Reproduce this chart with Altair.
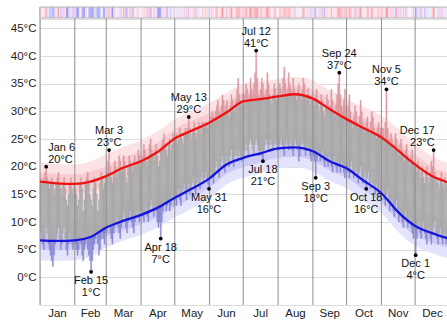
import altair as alt
import numpy as np
import pandas as pd

# ---- calendar ----
MONTHS = ["Jan", "Feb", "Mar", "Apr", "May", "Jun", "Jul", "Aug", "Sep", "Oct", "Nov", "Dec"]
MONTH_DAYS = [31, 28, 31, 30, 31, 30, 31, 31, 30, 31, 30, 31]

# ---- daily observed highs (°C), one list per month ----
high_jan = [18, 17, 17, 18, 19, 20, 18, 17, 16, 17, 18, 17, 15, 16, 17, 18, 19, 17, 16, 15, 17, 18, 16, 14, 13, 15, 17, 18, 16, 15, 17]
high_feb = [16, 15, 13, 14, 17, 18, 16, 12, 14, 17, 18, 19, 17, 15, 14, 13, 16, 18, 17, 15, 12, 14, 17, 19, 18, 16, 17, 18]
high_mar = [19, 21, 23, 20, 18, 17, 19, 21, 20, 18, 19, 22, 21, 19, 20, 22, 21, 18, 17, 20, 22, 21, 20, 19, 21, 22, 20, 21, 23, 22, 20]
high_apr = [21, 22, 24, 23, 21, 20, 22, 24, 25, 23, 22, 21, 23, 24, 22, 20, 21, 23, 24, 25, 26, 24, 23, 22, 24, 25, 23, 24, 26, 25]
high_may = [25, 26, 24, 25, 27, 26, 25, 24, 26, 27, 26, 27, 29, 27, 25, 26, 27, 28, 26, 25, 27, 28, 27, 26, 28, 28, 27, 28, 28, 27, 28]
high_jun = [28, 29, 30, 29, 28, 30, 31, 32, 30, 29, 31, 33, 32, 30, 31, 32, 30, 29, 31, 33, 32, 31, 30, 32, 34, 36, 33, 32, 31, 33]
high_jul = [32, 33, 35, 34, 32, 33, 36, 34, 33, 35, 37, 41, 36, 33, 32, 34, 36, 35, 33, 32, 34, 37, 35, 33, 32, 31, 33, 35, 34, 32, 33]
high_aug = [33, 35, 34, 33, 36, 38, 35, 33, 34, 37, 35, 34, 33, 36, 34, 33, 32, 34, 35, 33, 32, 34, 36, 35, 33, 32, 34, 33, 31, 32, 33]
high_sep = [32, 31, 33, 34, 32, 30, 31, 33, 32, 30, 29, 31, 33, 32, 30, 31, 34, 32, 30, 29, 31, 33, 35, 37, 33, 31, 30, 32, 34, 31]
high_oct = [29, 31, 33, 30, 28, 27, 29, 31, 30, 28, 27, 29, 32, 30, 28, 27, 26, 28, 29, 27, 26, 28, 30, 29, 27, 26, 25, 27, 28, 26, 27]
high_nov = [26, 27, 25, 28, 34, 27, 25, 24, 26, 25, 23, 24, 26, 25, 23, 22, 24, 25, 23, 22, 21, 23, 24, 22, 21, 20, 22, 23, 21, 20]
high_dec = [20, 19, 21, 20, 18, 19, 20, 18, 17, 19, 20, 18, 17, 19, 21, 20, 23, 19, 17, 18, 17, 16, 18, 19, 17, 16, 18, 17, 16, 17, 18]

# ---- daily observed lows (°C), one list per month ----
low_jan = [8, 7, 6, 5, 7, 9, 8, 6, 5, 4, 3, 2, 4, 6, 7, 8, 9, 7, 5, 6, 8, 9, 7, 5, 4, 6, 8, 7, 6, 5, 7]
low_feb = [6, 5, 4, 5, 7, 6, 4, 3, 5, 6, 7, 5, 4, 3, 1, 3, 5, 6, 7, 8, 6, 4, 5, 7, 8, 7, 6, 8]
low_mar = [8, 9, 10, 8, 7, 6, 8, 9, 10, 11, 9, 8, 7, 9, 10, 12, 11, 9, 8, 10, 11, 12, 10, 9, 8, 10, 11, 12, 11, 10, 12]
low_apr = [12, 11, 10, 12, 13, 11, 10, 12, 13, 14, 12, 11, 13, 12, 10, 9, 10, 7, 10, 12, 13, 14, 12, 13, 14, 12, 13, 15, 14, 13]
low_may = [14, 13, 15, 16, 14, 13, 15, 16, 17, 15, 14, 16, 17, 15, 16, 17, 18, 16, 15, 17, 18, 17, 16, 18, 19, 17, 18, 19, 18, 17, 16]
low_jun = [18, 19, 18, 17, 19, 20, 21, 19, 18, 20, 21, 22, 20, 19, 21, 22, 21, 20, 22, 23, 21, 20, 22, 23, 22, 21, 23, 22, 21, 22]
low_jul = [22, 23, 24, 23, 22, 24, 25, 24, 23, 22, 24, 25, 24, 23, 22, 23, 22, 21, 23, 24, 25, 24, 23, 24, 25, 24, 23, 24, 25, 24, 23]
low_aug = [23, 24, 25, 24, 23, 22, 24, 25, 24, 23, 24, 25, 23, 22, 24, 25, 24, 23, 21, 22, 24, 25, 24, 23, 22, 23, 24, 23, 22, 21, 23]
low_sep = [22, 21, 18, 21, 23, 22, 21, 22, 23, 21, 20, 22, 21, 20, 22, 21, 20, 19, 21, 22, 20, 19, 21, 20, 19, 21, 20, 19, 18, 20]
low_oct = [20, 19, 18, 20, 21, 19, 18, 19, 20, 18, 17, 19, 20, 18, 17, 18, 19, 16, 18, 19, 17, 16, 18, 17, 16, 15, 17, 16, 15, 16, 15]
low_nov = [15, 16, 14, 13, 15, 16, 14, 12, 13, 14, 12, 11, 13, 14, 12, 10, 11, 12, 10, 9, 11, 12, 10, 9, 10, 11, 9, 8, 7, 9]
low_dec = [4, 7, 9, 10, 8, 7, 9, 10, 8, 7, 6, 8, 9, 7, 6, 8, 9, 10, 8, 7, 6, 8, 9, 7, 6, 8, 7, 6, 8, 7, 6]

# ---- climatology at half-month knots (day of year) ----
knot_day = [0, 15, 31, 45, 59, 74, 90, 105, 120, 135, 151, 166, 181, 196, 212, 227, 243, 258, 273, 288, 304, 319, 334, 349, 364]
avg_high = [17.3, 17.0, 16.9, 17.3, 18.3, 19.8, 21.0, 22.7, 25.1, 26.5, 28.0, 29.8, 31.8, 32.2, 32.7, 33.1, 32.3, 30.4, 28.6, 27.0, 25.3, 22.9, 20.4, 18.3, 17.1]
high_p10 = [13.7, 13.4, 13.3, 13.6, 14.6, 16.1, 17.4, 19.0, 21.4, 23.0, 24.4, 26.2, 28.3, 28.7, 29.2, 29.6, 28.6, 26.8, 25.0, 23.4, 21.7, 19.3, 16.8, 14.7, 13.5]
high_p25 = [15.6, 15.3, 15.2, 15.5, 16.5, 18.0, 19.2, 20.8, 23.2, 24.9, 26.3, 28.1, 30.2, 30.6, 31.1, 31.5, 30.6, 28.7, 26.8, 25.2, 23.5, 21.1, 18.6, 16.6, 15.4]
high_p75 = [19.0, 18.7, 18.6, 19.1, 20.1, 21.6, 22.8, 24.4, 26.8, 28.3, 29.7, 31.5, 33.4, 33.8, 34.3, 34.7, 34.0, 32.1, 30.4, 28.8, 27.1, 24.7, 22.2, 20.0, 18.8]
high_p90 = [20.8, 20.5, 20.4, 21.0, 22.2, 23.6, 24.8, 26.4, 28.6, 30.0, 31.5, 33.3, 35.0, 35.4, 35.8, 36.2, 35.6, 33.8, 32.2, 30.8, 29.2, 26.8, 24.2, 21.9, 20.6]
avg_low = [6.7, 6.6, 6.7, 7.3, 9.0, 10.2, 11.3, 12.6, 14.4, 16.0, 17.9, 20.4, 21.6, 22.4, 23.3, 23.5, 22.8, 21.0, 19.7, 17.5, 15.2, 11.8, 9.3, 8.0, 7.0]
low_p10 = [3.1, 3.0, 3.1, 3.7, 5.4, 6.6, 7.7, 9.0, 10.8, 12.4, 14.3, 16.8, 18.0, 18.8, 19.7, 19.9, 19.2, 17.4, 16.1, 13.9, 11.6, 8.2, 5.7, 4.4, 3.4]
low_p25 = [5.0, 4.9, 5.0, 5.6, 7.3, 8.5, 9.6, 10.9, 12.7, 14.3, 16.2, 18.7, 19.9, 20.7, 21.6, 21.8, 21.1, 19.3, 18.0, 15.8, 13.5, 10.1, 7.6, 6.3, 5.3]
low_p75 = [8.4, 8.3, 8.4, 9.0, 10.7, 11.9, 13.0, 14.3, 16.1, 17.7, 19.6, 22.1, 23.3, 24.1, 25.0, 25.2, 24.5, 22.7, 21.4, 19.2, 16.9, 13.5, 11.0, 9.7, 8.7]
low_p90 = [10.2, 10.1, 10.2, 10.8, 12.5, 13.7, 14.8, 16.1, 17.9, 19.5, 21.4, 23.9, 25.1, 25.9, 26.8, 27.0, 26.3, 24.5, 23.2, 21.0, 18.7, 15.3, 12.8, 11.5, 10.5]

# ---- annotated extremes ----
ann_date = ["Jan 6", "Feb 15", "Mar 3", "Apr 18", "May 13", "May 31", "Jul 12",
            "Jul 18", "Sep 3", "Sep 24", "Oct 18", "Nov 5", "Dec 1", "Dec 17"]
ann_kind = ["high", "low", "high", "low", "high", "low", "high",
            "low", "low", "high", "low", "high", "low", "high"]

# ---- assemble tables ----
month_start = np.concatenate([[0], np.cumsum(MONTH_DAYS)[:-1]])
daily_high = np.array(sum([high_jan, high_feb, high_mar, high_apr, high_may, high_jun,
                           high_jul, high_aug, high_sep, high_oct, high_nov, high_dec], []), float)
daily_low = np.array(sum([low_jan, low_feb, low_mar, low_apr, low_may, low_jun,
                          low_jul, low_aug, low_sep, low_oct, low_nov, low_dec], []), float)
days = np.arange(len(daily_high))

# average curve at each day, used to split each daily bar into colored parts
ah_day = np.interp(days + 0.5, knot_day, avg_high)
al_day = np.interp(days + 0.5, knot_day, avg_low)

seg_rows = []
for d, h, l, ah, al in zip(days, daily_high, daily_low, ah_day, al_day):
    if l < al:
        seg_rows.append((d, d + 1, l, min(h, al), "below"))
    lo, hi = max(l, al), min(h, ah)
    if hi > lo:
        seg_rows.append((d, d + 1, lo, hi, "mid"))
    if h > ah:
        seg_rows.append((d, d + 1, max(l, ah), h, "above"))
segments = pd.DataFrame(seg_rows, columns=["d0", "d1", "t0", "t1", "part"])

stripe = pd.DataFrame({
    "d0": days, "d1": days + 1,
    "anom": (daily_high + daily_low) / 2 - (ah_day + al_day) / 2,
})

clim = pd.DataFrame({
    "day": knot_day, "avg_high": avg_high, "avg_low": avg_low,
    "hp10": high_p10, "hp25": high_p25, "hp75": high_p75, "hp90": high_p90,
    "lp10": low_p10, "lp25": low_p25, "lp75": low_p75, "lp90": low_p90,
})

months = pd.DataFrame({
    "name": MONTHS, "start": month_start,
    "mid": month_start + np.array(MONTH_DAYS) / 2,
})

ann_rows = []
for date, kind in zip(ann_date, ann_kind):
    mon, dd = date.split()
    doy = int(month_start[MONTHS.index(mon)]) + int(dd) - 1
    temp = daily_high[doy] if kind == "high" else daily_low[doy]
    ann_rows.append({"x": doy + 0.5, "t": temp, "kind": kind,
                     "label": f"{date}\n{int(temp)}°C"})
ann = pd.DataFrame(ann_rows)

# ---- chart ----
W, H = 407, 286
FONT = "Liberation Sans"
xs = alt.Scale(domain=[0, 362.4], nice=False, zero=False)
ys = alt.Scale(domain=[-5, 46.7], nice=False, zero=False)
y_axis = alt.Axis(values=list(range(-5, 50, 5)),
                  labelExpr="datum.value >= 0 ? datum.value + '°C' : ''",
                  grid=True, gridColor="#dcdcdc", gridWidth=1, ticks=False,
                  domain=False, labelPadding=4, labelFontSize=11.5,
                  labelColor="#222", labelFont=FONT, title=None)


def X(field):
    return alt.X(field, type="quantitative", scale=xs, axis=None)


def Y(field):
    return alt.Y(field, type="quantitative", scale=ys, axis=y_axis)


band_hi_outer = alt.Chart(clim).mark_area(interpolate="monotone", color="#fbe2e4").encode(
    x=X("day"), y=Y("hp10"), y2="hp90:Q")
band_hi_inner = alt.Chart(clim).mark_area(interpolate="monotone", color="#f7cbcf").encode(
    x=X("day"), y=Y("hp25"), y2="hp75:Q")
band_lo_outer = alt.Chart(clim).mark_area(interpolate="monotone", color="#e3e3fb").encode(
    x=X("day"), y=Y("lp10"), y2="lp90:Q")
band_lo_inner = alt.Chart(clim).mark_area(interpolate="monotone", color="#cbcbf6").encode(
    x=X("day"), y=Y("lp25"), y2="lp75:Q")

part_scale = alt.Scale(domain=["below", "mid", "above"],
                       range=["#8a8ad2", "#aaaaaa", "#dc98a0"])
bars = alt.Chart(segments).mark_rect(opacity=1, strokeWidth=0.4).encode(
    x=X("d0"), x2="d1:Q", y=Y("t0"), y2="t1:Q",
    color=alt.Color("part:N", legend=None, scale=part_scale),
    stroke=alt.Stroke("part:N", legend=None, scale=part_scale),
)

month_rules = alt.Chart(months).mark_rule(color="#8e8e8e", strokeWidth=1).encode(
    x=X("start"), y=alt.value(-12), y2=alt.value(H))

line_high = alt.Chart(clim).mark_line(interpolate="monotone", color="#ee1111", strokeWidth=2.3).encode(
    x=X("day"), y=Y("avg_high"))
line_low = alt.Chart(clim).mark_line(interpolate="monotone", color="#1414dd", strokeWidth=2.3).encode(
    x=X("day"), y=Y("avg_low"))

stripe_bar = alt.Chart(stripe).mark_rect().encode(
    x=X("d0"), x2="d1:Q", y=alt.value(-12), y2=alt.value(-1),
    color=alt.Color("anom:Q", legend=None,
                    scale=alt.Scale(domain=[-2.5, 0, 2.5], range=["#9a9af4", "#ffffff", "#f49ca6"],
                                    clamp=True)),
)
stripe_frame = alt.Chart(pd.DataFrame({"k": [0]})).mark_rect(
    fillOpacity=0, stroke="#b4b4b4", strokeWidth=1).encode(
    x=alt.value(0), x2=alt.value(W + 5), y=alt.value(-12), y2=alt.value(-1))

dots = alt.Chart(ann).mark_circle(size=14, color="black", opacity=1).encode(
    x=X("x"), y=Y("t"))


def ann_layer(kind, align, dx, cond):
    sub = ann[(ann["kind"] == kind) & cond(ann["x"])]
    return alt.Chart(sub).mark_text(
        lineBreak="\n", align=align, dx=dx,
        baseline="bottom" if kind == "high" else "top",
        dy=-14 if kind == "high" else 3,
        font=FONT, fontSize=11, lineHeight=12, color="#111",
    ).encode(x=X("x"), y=Y("t"), text="label:N")


ann_layers = []
for kind in ["high", "low"]:
    ann_layers.append(ann_layer(kind, "left", 2, lambda s: s < 15))
    ann_layers.append(ann_layer(kind, "center", 0, lambda s: (s >= 15) & (s <= 340)))
    ann_layers.append(ann_layer(kind, "right", 1, lambda s: s > 340))

month_labels = alt.Chart(months).mark_text(
    font=FONT, fontSize=11.5, color="#222", baseline="middle").encode(
    x=X("mid"), y=alt.value(H + 9), text="name:N")

chart = alt.layer(
    band_hi_outer, band_hi_inner, band_lo_outer, band_lo_inner,
    bars, month_rules, line_high, line_low,
    stripe_bar, stripe_frame, dots, *ann_layers, month_labels,
).properties(
    width=W, height=H,
    autosize=alt.AutoSizeParams(type="none"),
    padding={"left": 40, "top": 19, "right": 0, "bottom": 19},
).configure_view(stroke=None).configure(background="white")

chart.save("out.html", embed_options={"renderer": "svg", "actions": False})
